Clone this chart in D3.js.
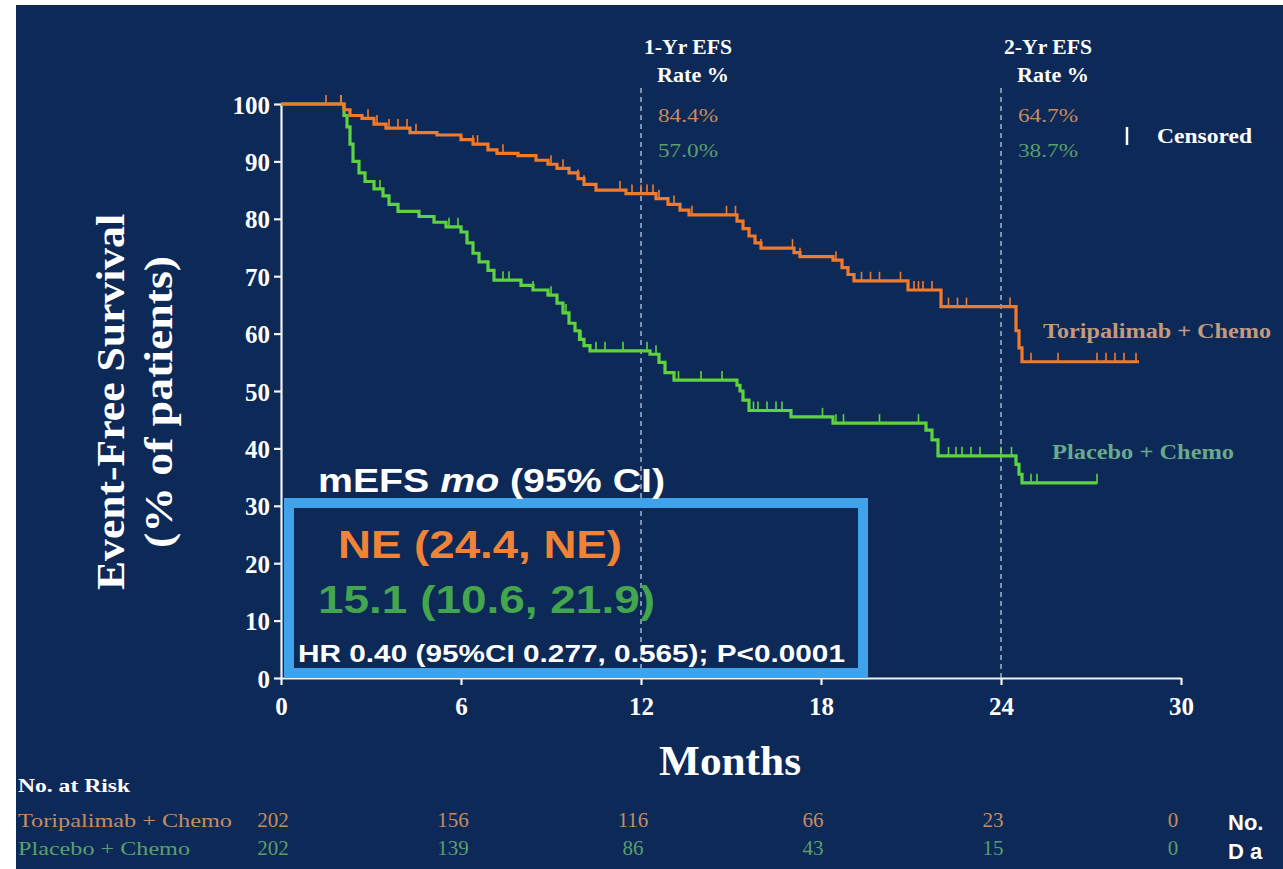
<!DOCTYPE html>
<html>
<head>
<meta charset="utf-8">
<script src="https://cdn.jsdelivr.net/npm/d3@7"></script>
<style>
  html, body { margin: 0; padding: 0; background: #ffffff; }
  svg { display: block; }
</style>
</head>
<body>
<svg id="chart" width="1283" height="869"></svg>
<script>
// ---- Data -------------------------------------------------------------
// Kaplan–Meier step points: [month, event-free survival %]
const toripalimabSteps = [
  [0,100],[2.1,99.0],[2.3,98.0],[2.7,97.5],[3.1,96.5],[3.5,95.8],[4.3,95.0],[5.2,94.6],
  [6.0,93.8],[6.4,93.0],[6.9,92.0],[7.2,91.4],[7.9,91.0],[8.5,90.2],[8.9,89.5],[9.2,88.8],
  [9.6,88.0],[9.9,87.0],[10.1,86.0],[10.5,85.0],[11.5,84.4],[12.5,83.5],[12.9,82.5],
  [13.3,81.5],[13.6,80.7],[15.2,79.6],[15.4,78.3],[15.6,77.0],[15.8,75.8],[16.0,74.9],
  [17.1,74.1],[17.3,73.4],[18.4,72.8],[18.7,71.5],[18.9,70.3],[19.1,69.2],[20.9,67.6],
  [22.0,64.7],[24.5,60.5],[24.6,57.5],[24.7,55.1]
];
const toripalimabEnd = 28.6;
const toripalimabCensored = [
  1.5,2.0,2.9,3.2,3.6,3.9,4.2,4.5,6.4,6.55,7.4,9.0,9.4,9.9,10.1,11.3,11.7,12.0,12.2,12.4,
  12.6,13.1,13.7,14.85,15.15,16.0,17.05,17.3,18.5,19.35,19.65,19.95,20.65,21.1,21.25,21.4,
  21.7,22.25,22.55,22.85,24.3,25.0,25.9,27.2,27.5,27.8,28.1,28.5
];

const placeboSteps = [
  [0,100],[2.1,98],[2.2,96],[2.3,93],[2.4,90],[2.6,88],[2.8,86.5],[3.1,85.2],[3.4,84],
  [3.6,82.5],[3.9,81.3],[4.6,80.4],[5.1,79.4],[5.5,78.6],[6.0,77.7],[6.2,75.8],[6.4,74],
  [6.6,72.5],[6.9,71],[7.1,69.3],[8.0,68.4],[8.4,67.6],[8.9,66.7],[9.2,65.3],[9.4,63.6],
  [9.6,61.8],[9.8,60.5],[9.95,59.0],[10.1,57.9],[10.3,57.0],[12.3,56.4],[12.6,55.0],
  [12.8,53.2],[13.1,51.9],[15.2,51.0],[15.3,50.0],[15.4,48.4],[15.6,46.6],[17.0,45.5],
  [18.4,44.4],[21.5,43.2],[21.7,41.5],[21.9,38.7],[24.5,37.2],[24.6,35.5],[24.7,34.0]
];
const placeboEnd = 27.2;
const placeboCensored = [
  2.0,3.3,5.6,5.9,7.4,7.6,8.4,9.0,9.5,10.0,10.5,10.8,11.4,12.2,12.5,13.25,14.0,14.7,15.6,
  15.75,15.9,16.2,16.5,16.7,18.05,18.5,18.75,19.95,21.25,22.25,22.5,22.7,23.0,23.3,24.0,
  24.35,25.0,25.2,27.2
];

const xTicks = [0, 6, 12, 18, 24, 30];
const yTicks = [0, 10, 20, 30, 40, 50, 60, 70, 80, 90, 100];
const landmarkMonths = [12, 24];
const landmarkTitles = [["1-Yr EFS", "Rate %"], ["2-Yr EFS", "Rate %"]];
const toripalimabRates = ["84.4%", "64.7%"];
const placeboRates = ["57.0%", "38.7%"];

const riskMonths = [0, 6, 12, 18, 24, 30];
const toripalimabAtRisk = [202, 156, 116, 66, 23, 0];
const placeboAtRisk = [202, 139, 86, 43, 15, 0];

// ---- Styles -----------------------------------------------------------
const BG = "#0c2957";
const ORANGE = "#f27a2b";
const GREEN = "#5fd23f";
const ORANGE_TXT = "#c98a5c";
const GREEN_TXT = "#5a9f6c";
const SERIF = "'Liberation Serif', 'Times New Roman', serif";
const SANS = "'Liberation Sans', Arial, sans-serif";

const svg = d3.select("#chart");
svg.append("rect").attr("x", 16).attr("y", 5).attr("width", 1283 - 16).attr("height", 869 - 5).attr("fill", BG);

const x = d3.scaleLinear().domain([0, 30]).range([281, 1181]);
const y = d3.scaleLinear().domain([0, 100]).range([678, 104]);

function label(parent, px, py, s, o) {
  const t = parent.append("text")
    .attr("x", px).attr("y", py)
    .attr("font-family", o.family || SERIF)
    .attr("font-size", o.size)
    .attr("font-weight", o.weight || "normal")
    .attr("fill", o.fill || "#ffffff")
    .attr("text-anchor", o.anchor || "start")
    .text(s);
  if (o.len) t.attr("textLength", o.len).attr("lengthAdjust", "spacingAndGlyphs");
  if (o.rotate) t.attr("transform", `rotate(${o.rotate},${px},${py})`);
  return t;
}

// ---- Landmark dashed lines -------------------------------------------
svg.append("g").selectAll("line").data(landmarkMonths).join("line")
  .attr("x1", d => x(d)).attr("x2", d => x(d))
  .attr("y1", 88).attr("y2", y(0))
  .attr("stroke", "#dfe6f2").attr("stroke-width", 1.3)
  .attr("stroke-dasharray", "5,4").attr("opacity", 0.85);

// ---- Axes -------------------------------------------------------------
const axisColor = "#f2f2f2";
const xAxis = svg.append("g").attr("transform", `translate(0,${y(0)})`)
  .call(d3.axisBottom(x).tickValues(xTicks).tickSize(7).tickSizeOuter(0).tickPadding(9));
const yAxis = svg.append("g").attr("transform", `translate(${x(0)},0)`)
  .call(d3.axisLeft(y).tickValues(yTicks).tickSize(7).tickSizeOuter(0).tickPadding(4));
[xAxis, yAxis].forEach(a => {
  a.select(".domain").attr("stroke", axisColor).attr("stroke-width", 2.2);
  a.selectAll(".tick line").attr("stroke", axisColor).attr("stroke-width", 2.2);
  a.selectAll(".tick text").attr("fill", "#ffffff").attr("font-family", SERIF)
    .attr("font-weight", "bold").attr("font-size", 25);
});
xAxis.selectAll(".tick text").attr("dy", "0.85em");
yAxis.selectAll(".tick text").attr("dy", "0.36em");

// ---- Survival curves --------------------------------------------------
const line = d3.line().x(d => x(d[0])).y(d => y(d[1])).curve(d3.curveStepAfter);

function survivalAt(steps, t) {
  let s = steps[0][1];
  for (const [tt, v] of steps) { if (tt <= t) s = v; else break; }
  return s;
}

function drawCurve(steps, endMonth, censored, color) {
  const pts = steps.concat([[endMonth, steps[steps.length - 1][1]]]);
  svg.append("path").datum(pts).attr("d", line)
    .attr("fill", "none").attr("stroke", color).attr("stroke-width", 3.2)
    .attr("stroke-linejoin", "miter");
  svg.append("g").selectAll("line").data(censored).join("line")
    .attr("x1", d => x(d)).attr("x2", d => x(d))
    .attr("y1", d => y(survivalAt(steps, d)) + 1)
    .attr("y2", d => y(survivalAt(steps, d)) - 9)
    .attr("stroke", color).attr("stroke-width", 1.6);
}
drawCurve(placeboSteps, placeboEnd, placeboCensored, GREEN);
drawCurve(toripalimabSteps, toripalimabEnd, toripalimabCensored, ORANGE);

// ---- Landmark annotations --------------------------------------------
landmarkMonths.forEach((m, i) => {
  const cx = x(m) + 47;
  label(svg, cx, 54, landmarkTitles[i][0], { size: 20, weight: "bold", anchor: "middle", len: 88 });
  label(svg, cx + 5, 82, landmarkTitles[i][1], { size: 20, weight: "bold", anchor: "middle", len: 72 });
  label(svg, x(m) + 17, 122, toripalimabRates[i], { size: 19, fill: ORANGE_TXT, len: 60 });
  label(svg, x(m) + 17, 157, placeboRates[i], { size: 19, fill: GREEN_TXT, len: 60 });
});

// Censored legend
svg.append("line").attr("x1", 1127).attr("x2", 1127).attr("y1", 127).attr("y2", 145)
  .attr("stroke", "#ffffff").attr("stroke-width", 2.5);
label(svg, 1157, 143, "Censored", { size: 21, weight: "bold", len: 95 });

// Curve labels
label(svg, 1043, 338, "Toripalimab + Chemo", { size: 20, weight: "bold", fill: "#c39a7e", len: 228 });
label(svg, 1052, 459, "Placebo + Chemo", { size: 20, weight: "bold", fill: "#6aa98a", len: 182 });

// ---- Axis titles ------------------------------------------------------
label(svg, 124, 402, "Event-Free Survival", { size: 40, weight: "bold", anchor: "middle", rotate: -90, len: 376 });
label(svg, 172, 402, "(% of patients)", { size: 40, weight: "bold", anchor: "middle", rotate: -90, len: 292 });
label(svg, 730, 775, "Months", { size: 42, weight: "bold", anchor: "middle", len: 142 });

// ---- Median EFS box ---------------------------------------------------
svg.append("rect").attr("x", 289).attr("y", 503).attr("width", 574).attr("height", 170)
  .attr("fill", "none").attr("stroke", "#3fa3ec").attr("stroke-width", 10);
const head = label(svg, 318, 492, "", { size: 34, weight: "bold", family: SANS, len: 347 });
head.append("tspan").text("mEFS ");
head.append("tspan").attr("font-style", "italic").text("mo");
head.append("tspan").text(" (95% CI)");
label(svg, 338, 558, "NE (24.4, NE)", { size: 39, weight: "bold", family: SANS, fill: "#ef8438", len: 284 });
label(svg, 318, 613, "15.1 (10.6, 21.9)", { size: 39, weight: "bold", family: SANS, fill: "#43a54d", len: 337 });
label(svg, 298, 662, "HR 0.40 (95%CI 0.277, 0.565); P<0.0001", { size: 24, weight: "bold", family: SANS, len: 547 });

// ---- Number at risk table --------------------------------------------
label(svg, 18, 792, "No. at Risk", { size: 19, weight: "bold", len: 112 });
label(svg, 18, 827, "Toripalimab + Chemo", { size: 19, fill: ORANGE_TXT, len: 214 });
label(svg, 18, 855, "Placebo + Chemo", { size: 19, fill: GREEN_TXT, len: 172 });
svg.append("g").selectAll("text").data(toripalimabAtRisk).join("text")
  .attr("x", (d, i) => x(riskMonths[i]) - 8).attr("y", 827)
  .attr("text-anchor", "middle").attr("font-family", SERIF).attr("font-size", 21)
  .attr("fill", ORANGE_TXT).text(d => d);
svg.append("g").selectAll("text").data(placeboAtRisk).join("text")
  .attr("x", (d, i) => x(riskMonths[i]) - 8).attr("y", 855)
  .attr("text-anchor", "middle").attr("font-family", SERIF).attr("font-size", 21)
  .attr("fill", GREEN_TXT).text(d => d);

label(svg, 1228, 830, "No.", { size: 22, weight: "bold", family: SANS });
label(svg, 1228, 859, "D a", { size: 22, weight: "bold", family: SANS });
</script>
</body>
</html>
